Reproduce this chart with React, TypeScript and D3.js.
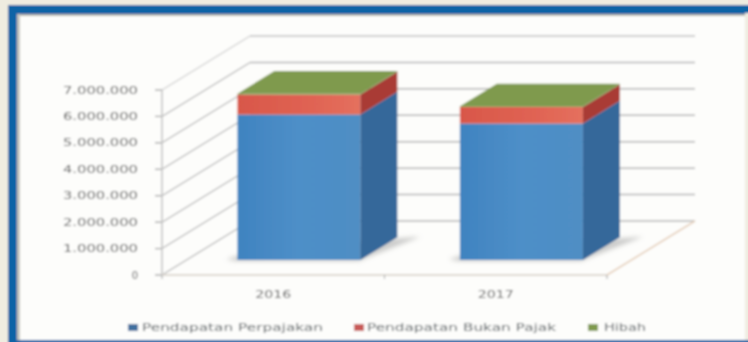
import React from "react";
import * as d3 from "d3";

// Revenue by year, in the table's own units
const years = ["2016", "2017"];
const seriesNames = ["Pendapatan Perpajakan", "Pendapatan Bukan Pajak", "Hibah"];
const perpajakan = [5500000, 5160000];
const bukanPajak = [760000, 620000];
const hibah = [30000, 30000];
const yTicks = [0, 1000000, 2000000, 3000000, 4000000, 5000000, 6000000, 7000000];
const tickLabels = ["0", "1.000.000", "2.000.000", "3.000.000", "4.000.000", "5.000.000", "6.000.000", "7.000.000"];

const W = 748;
const H = 342;
const y = d3.scaleLinear().domain([0, 7000000]).range([275, 90]);
const x = d3.scaleBand<string>().domain(years).range([162, 607]);
const DEPTH_X = 88;
const DEPTH_Y = 54;
const BAR_W = 123;
const BAR_D0 = 0.28;
const BAR_D1 = 0.7;

// Oblique projection: chart x, value and depth fraction to screen coordinates
const pt = (px: number, v: number, d: number): [number, number] => [px + DEPTH_X * d, y(v) - DEPTH_Y * d];
const poly = (points: [number, number][]) => (d3.line()(points) as string) + "Z";

const palette = [
  { front: "url(#fBlue)", side: "#35689a", top: "#4f8fc6" },
  { front: "url(#fRed)", side: "#a93a36", top: "#dc5f50" },
  { front: "#7f9a4e", side: "#6d8a44", top: "#7f9a4e" },
];
const legendSwatch = ["#3f6f9f", "#c85a58", "#7f9a4e"];
const legendX = [128, 354, 588];
const legendTextX = [142, 367, 604];
const legendTextW = [181, 189, 42];
const textTone = "#5a5a5a";

export default function App() {
  const values = [perpajakan, bukanPajak, hibah];
  return (
    <svg width={W} height={H} style={{ position: "absolute", left: 0, top: 0 }}>
      <defs>
        <filter id="soft" x="-2%" y="-2%" width="104%" height="104%">
          <feGaussianBlur stdDeviation="1" />
        </filter>
        <filter id="shadowBlur" x="-30%" y="-100%" width="160%" height="300%">
          <feGaussianBlur stdDeviation="2" />
        </filter>
        <linearGradient id="fBlue" x1="0" x2="1" y1="0" y2="0">
          <stop offset="0" stopColor="#3f83c0" />
          <stop offset="0.5" stopColor="#4e8fc8" />
          <stop offset="1" stopColor="#4f8ec4" />
        </linearGradient>
        <linearGradient id="fRed" x1="0" x2="1" y1="0" y2="0">
          <stop offset="0" stopColor="#d8574a" />
          <stop offset="0.6" stopColor="#e06353" />
          <stop offset="1" stopColor="#e4705e" />
        </linearGradient>
      </defs>
      <g filter="url(#soft)">
        <rect x={-5} y={-5} width={W + 10} height={H + 10} fill="#efece0" />
        <rect x={8} y={5} width={W + 5} height={H + 5} fill="#0a63a6" />
        <rect x={17} y={14} width={728} height={326} fill="#fdfdfb" />
        <rect x={17} y={14} width={728} height={2} fill="#b8b8ae" />
        <rect x={17} y={14} width={3} height={326} fill="#c4c4bc" />
        <rect x={745} y={13} width={8} height={327} fill="#efece0" />

        {/* Side wall, back wall and floor rules */}
        {yTicks.map((t, i) => {
          const a = pt(162, t, 0);
          const b = pt(162, t, 1);
          const c = pt(607, t, 1);
          const tone = t === 7000000 ? "#cfcfcf" : "#b4b4b4";
          return (
            <g key={t}>
              <line x1={a[0]} y1={a[1]} x2={b[0]} y2={b[1]} stroke={tone} strokeWidth={1.2} />
              <line x1={b[0]} y1={b[1]} x2={c[0]} y2={c[1]} stroke={tone} strokeWidth={t === 7000000 ? 2.2 : 1.5} />
              <line x1={155} y1={a[1]} x2={162} y2={a[1]} stroke="#9a9a9a" strokeWidth={1.2} />
              <text
                x={138}
                y={a[1]}
                dy="0.36em"
                textAnchor="end"
                fontFamily="DejaVu Sans"
                fontSize={10}
                fill={textTone}
                textLength={t === 0 ? undefined : 75}
                lengthAdjust="spacingAndGlyphs"
              >
                {tickLabels[i]}
              </text>
            </g>
          );
        })}
        <line x1={162} y1={y(7000000)} x2={162} y2={y(0)} stroke="#c4c4c4" strokeWidth={1.6} />
        <line x1={162} y1={y(0)} x2={607} y2={y(0)} stroke="#ded9d2" strokeWidth={2.2} />
        <line x1={607} y1={y(0)} x2={695} y2={y(0) - DEPTH_Y} stroke="#e6d0bc" strokeWidth={1.6} />
        {[162, x("2017") as number, 607].map((px) => (
          <line key={px} x1={px} y1={y(0)} x2={px} y2={y(0) + 4} stroke="#a0a0a0" />
        ))}

        {/* Stacked columns, lowest series first */}
        {years.map((yr, i) => {
          const left = (x(yr) as number) + x.bandwidth() / 2 - BAR_W / 2 + 1;
          const right = left + BAR_W;
          const stackTop = perpajakan[i] + bukanPajak[i] + hibah[i];
          let base = 0;
          return (
            <g key={yr}>
              <path
                d={poly([pt(left - 12, 0, BAR_D0 + 0.01), pt(left, 0, BAR_D0 + 0.14), pt(right + 14, 0, BAR_D1), pt(right + 22, 0, BAR_D1 + 0.01), pt(right, 0, BAR_D0 - 0.02), pt(left, 0, BAR_D0 - 0.02)])}
                fill="#9a9a9a"
                opacity={0.5}
                filter="url(#shadowBlur)"
              />
              {values.map((s, k) => {
                const lo = base;
                const hi = base + s[i];
                base = hi;
                return (
                  <g key={k}>
                    <path d={poly([pt(left, lo, BAR_D0), pt(right, lo, BAR_D0), pt(right, hi, BAR_D0), pt(left, hi, BAR_D0)])} fill={palette[k].front} />
                    <path d={poly([pt(right, lo, BAR_D0), pt(right, lo, BAR_D1), pt(right, hi, BAR_D1), pt(right, hi, BAR_D0)])} fill={palette[k].side} />
                  </g>
                );
              })}
              <path
                d={poly([pt(left, stackTop, BAR_D0), pt(right, stackTop, BAR_D0), pt(right, stackTop, BAR_D1), pt(left, stackTop, BAR_D1)])}
                fill={palette[2].top}
              />
              <text
                x={(x(yr) as number) + x.bandwidth() / 2}
                y={298}
                textAnchor="middle"
                fontFamily="DejaVu Sans"
                fontSize={10}
                fill={textTone}
                textLength={36}
                lengthAdjust="spacingAndGlyphs"
              >
                {yr}
              </text>
            </g>
          );
        })}

        {/* Legend */}
        {seriesNames.map((name, k) => (
          <g key={name}>
            <rect x={legendX[k]} y={324} width={10} height={7} fill={legendSwatch[k]} />
            <text
              x={legendTextX[k]}
              y={331}
              fontFamily="DejaVu Sans"
              fontSize={10}
              fill="#555c60"
              textLength={legendTextW[k]}
              lengthAdjust="spacingAndGlyphs"
            >
              {name}
            </text>
          </g>
        ))}
      </g>
    </svg>
  );
}
